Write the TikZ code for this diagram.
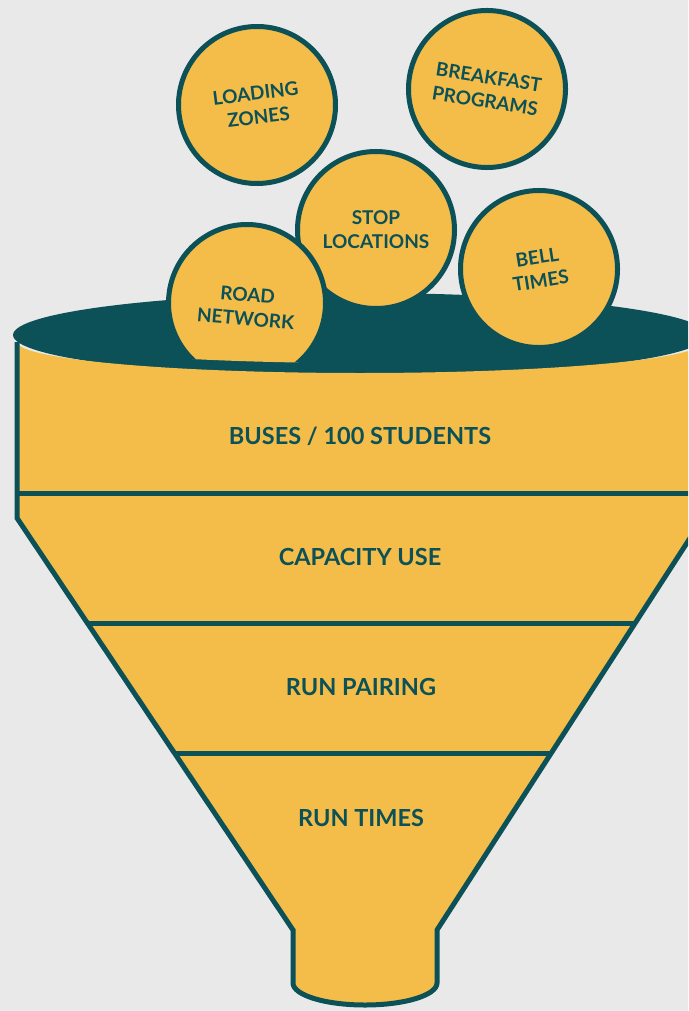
\documentclass[tikz,border=0pt]{standalone}
\usepackage{fontspec}
\setmainfont{Lato}
\definecolor{bgc}{HTML}{E9E9E9}
\definecolor{fy}{HTML}{F4BC48}
\definecolor{ft}{HTML}{0B5157}
\tikzset{
  ball/.style={circle, fill=fy, draw=ft, line width=5pt, minimum size=157pt, inner sep=0pt,
    text=ft, align=center, font=\fontsize{19}{24}\selectfont\bfseries},
  band/.style={text=ft, font=\fontsize{23.5}{28}\selectfont\bfseries},
  edge/.style={draw=ft, line width=5pt, line join=miter}
}
\begin{document}
\begin{tikzpicture}[x=1pt,y=-1pt]
\useasboundingbox (0,0) rectangle (688,1011);
\clip (0,0) rectangle (688,1011);
\fill[bgc] (0,0) rectangle (688,1011);
% opening of the funnel
\fill[ft] (360,335) ellipse[x radius=347pt, y radius=42pt];
% balls
\node[ball] (stop) at (376,230) {STOP\\LOCATIONS};
\begin{scope}
  \clip (0,0) -- (0,332) -- (17,332) arc[start angle=180, end angle=360, x radius=343pt, y radius=31pt] -- (703,0) -- cycle;
  \node[ball, rotate=-5] (road) at (247,303) {\\[-3pt]ROAD\\NETWORK};
\end{scope}
\node[ball, rotate=9] (bell) at (539,269) {BELL\\TIMES};
\node[ball, rotate=7] (load) at (257,105) {LOADING\\ZONES};
\node[ball, rotate=-9] (break) at (487,89) {BREAKFAST\\PROGRAMS};
% funnel body
\path[fill=fy] (17,342) -- (17,518) -- (293,930) -- (293,983)
  arc[start angle=180, end angle=360, x radius=72pt, y radius=22pt]
  -- (437,930) -- (703,518) -- (703,342)
  arc[start angle=0, end angle=-180, x radius=343pt, y radius=31pt] -- cycle;
\begin{scope}
  \clip (17,342) -- (17,518) -- (293,930) -- (293,983)
    arc[start angle=180, end angle=360, x radius=72pt, y radius=22pt]
    -- (437,930) -- (703,518) -- (703,342)
    arc[start angle=0, end angle=-180, x radius=343pt, y radius=31pt] -- cycle;
  \draw[ft, line width=5pt] (0,493) -- (720,493);
  \draw[ft, line width=5pt] (0,623) -- (720,623);
  \draw[ft, line width=5pt] (0,753) -- (720,753);
\end{scope}
\draw[edge] (17,342) -- (17,518) -- (293,930) -- (293,983)
  arc[start angle=180, end angle=360, x radius=72pt, y radius=22pt]
  -- (437,930) -- (703,518) -- (703,342);
% band labels
\node[band] (b1) at (360,436) {BUSES / 100 STUDENTS};
\node[band] (b2) at (360,557) {CAPACITY USE};
\node[band] (b3) at (361,687) {RUN PAIRING};
\node[band] (b4) at (361,818) {RUN TIMES};
\end{tikzpicture}
\end{document}
